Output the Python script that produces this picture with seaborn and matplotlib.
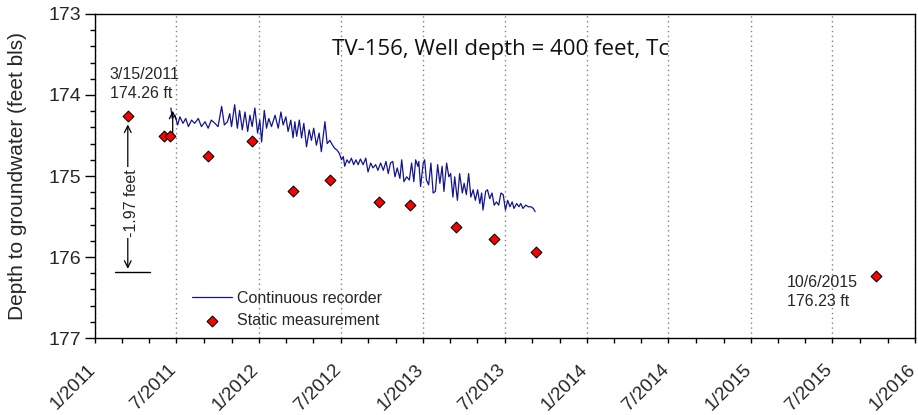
import numpy as np
import pandas as pd
import matplotlib
matplotlib.use("Agg")
import matplotlib.pyplot as plt
import matplotlib.dates as mdates
import matplotlib.transforms as mtransforms
from matplotlib.ticker import MultipleLocator, FuncFormatter
import seaborn as sns

# ---------------- data ----------------
rec_dates = [
    "2011-06-19", "2011-06-22", "2011-06-28", "2011-07-04", "2011-07-09", "2011-07-16", "2011-07-22", "2011-07-28",
    "2011-08-04", "2011-08-11", "2011-08-19", "2011-08-26", "2011-09-03", "2011-09-10", "2011-09-17", "2011-09-25",
    "2011-10-02", "2011-10-10", "2011-10-16", "2011-10-23", "2011-10-28", "2011-11-01", "2011-11-08", "2011-11-14",
    "2011-11-19", "2011-11-25", "2011-12-01", "2011-12-07", "2011-12-12", "2011-12-17", "2011-12-23", "2011-12-29",
    "2012-01-03", "2012-01-07", "2012-01-13", "2012-01-18", "2012-01-23", "2012-01-29", "2012-02-06", "2012-02-13",
    "2012-02-19", "2012-02-24", "2012-03-01", "2012-03-06", "2012-03-12", "2012-03-17",
    "2012-03-21", "2012-03-25", "2012-03-31", "2012-04-05", "2012-04-10", "2012-04-16", "2012-04-22", "2012-04-27",
    "2012-05-02", "2012-05-08", "2012-05-14", "2012-05-19", "2012-05-27", "2012-06-01", "2012-06-07", "2012-06-13",
    "2012-06-18", "2012-06-23", "2012-06-28", "2012-07-03", "2012-07-07", "2012-07-10", "2012-07-15", "2012-07-20",
    "2012-07-25", "2012-07-30", "2012-08-04", "2012-08-09", "2012-08-14", "2012-08-20", "2012-08-26", "2012-08-31",
    "2012-09-06", "2012-09-11", "2012-09-17", "2012-09-22", "2012-09-28", "2012-10-04", "2012-10-10", "2012-10-15",
    "2012-10-20", "2012-10-25", "2012-10-30", "2012-11-04", "2012-11-10", "2012-11-14", "2012-11-19", "2012-11-25",
    "2012-12-01", "2012-12-06", "2012-12-11", "2012-12-15", "2012-12-20",
    "2012-12-22", "2012-12-26", "2013-01-01", "2013-01-04", "2013-01-08", "2013-01-13", "2013-01-18", "2013-01-23",
    "2013-01-28", "2013-02-02", "2013-02-07", "2013-02-12", "2013-02-16", "2013-02-22", "2013-02-27", "2013-03-03",
    "2013-03-08", "2013-03-12", "2013-03-18", "2013-03-23", "2013-03-29", "2013-04-02", "2013-04-07", "2013-04-12",
    "2013-04-17", "2013-04-22", "2013-04-27", "2013-05-02", "2013-05-07", "2013-05-11", "2013-05-14", "2013-05-20",
    "2013-05-24", "2013-05-29", "2013-06-03", "2013-06-08", "2013-06-13", "2013-06-18", "2013-06-23", "2013-06-28",
    "2013-07-03", "2013-07-08", "2013-07-13", "2013-07-18", "2013-07-22", "2013-07-28", "2013-08-02", "2013-08-06",
    "2013-08-11", "2013-08-17", "2013-08-23", "2013-08-29", "2013-09-03", "2013-09-07",
]
rec_depth = [
    174.16, 174.29, 174.25, 174.37, 174.27, 174.35, 174.29, 174.39, 174.31, 174.35, 174.29, 174.39,
    174.33, 174.41, 174.31, 174.35, 174.39, 174.14, 174.37, 174.33, 174.23, 174.39, 174.12, 174.41,
    174.19, 174.43, 174.21, 174.45, 174.25, 174.39, 174.16, 174.47, 174.31, 174.58, 174.19, 174.41,
    174.29, 174.39, 174.25, 174.41, 174.21, 174.37, 174.27, 174.45, 174.31, 174.53,
    174.33, 174.51, 174.31, 174.53, 174.35, 174.64, 174.43, 174.56, 174.41, 174.62, 174.47, 174.70,
    174.33, 174.60, 174.56, 174.62, 174.66, 174.68, 174.72, 174.80, 174.76, 174.88, 174.80, 174.84,
    174.78, 174.86, 174.80, 174.86, 174.79, 174.86, 174.78, 174.95, 174.84, 174.90, 174.86, 174.93,
    174.84, 174.93, 174.82, 174.97, 174.84, 174.82, 175.01, 174.90, 175.03, 174.80, 175.07, 175.01,
    175.05, 174.84, 175.07, 174.80, 174.88,
    174.82, 175.13, 174.84, 174.80, 175.05, 175.11, 174.84, 175.21, 175.19, 174.86, 175.09, 174.88,
    175.19, 174.84, 175.01, 174.97, 175.26, 175.01, 175.30, 174.97, 175.21, 175.09, 175.23, 174.97,
    175.26, 175.17, 175.30, 175.17, 175.34, 175.21, 175.42, 175.19, 175.17, 175.28, 175.21, 175.36,
    175.32, 175.36, 175.21, 175.23, 175.42, 175.30, 175.38, 175.32, 175.40, 175.34, 175.38, 175.34,
    175.40, 175.36, 175.38, 175.38, 175.40, 175.44,
]
static_dates = [
    "2011-03-15", "2011-06-03", "2011-06-16", "2011-09-09", "2011-12-16", "2012-03-16", "2012-06-07",
    "2012-09-24", "2012-12-03", "2013-03-15", "2013-06-08", "2013-09-08", "2015-10-06",
]
static_depth = [
    174.26, 174.51, 174.51, 174.75, 174.57, 175.19, 175.05,
    175.32, 175.36, 175.63, 175.78, 175.94, 176.23,
]
title_text = "TV-156, Well depth = 400 feet, Tc"
ylabel_text = "Depth to groundwater (feet bls)"
first_note = "3/15/2011\n174.26 ft"
last_note = "10/6/2015\n176.23 ft"
diff_note = "-1.97 feet"

rec = pd.DataFrame({"date": pd.to_datetime(rec_dates), "depth": rec_depth})
stat = pd.DataFrame({"date": pd.to_datetime(static_dates), "depth": static_depth})

# ---------------- style ----------------
sns.set_theme(style="ticks")
plt.rcParams["font.family"] = ["Liberation Sans", "DejaVu Sans"]
plt.rcParams["axes.linewidth"] = 1.0

fig = plt.figure(figsize=(9.18, 4.15), dpi=100)
ax = fig.add_axes([0.1035, 0.1855, 0.8932, 0.7808])

sns.lineplot(data=rec, x="date", y="depth", ax=ax, color="#14148c", linewidth=0.9,
             estimator=None, sort=False, label="Continuous recorder")
sns.scatterplot(data=stat, x="date", y="depth", ax=ax, marker="D", s=30, color="#ff0000",
                edgecolor="black", linewidth=0.8, zorder=4, label="Static measurement")

ax.set_xlim(pd.Timestamp("2011-01-01"), pd.Timestamp("2016-01-01"))
ax.set_ylim(177, 173)

ax.xaxis.set_major_locator(mdates.MonthLocator(bymonth=[1, 7]))
ax.xaxis.set_minor_locator(mdates.MonthLocator(bymonth=[3, 5, 9, 11]))
ax.xaxis.set_major_formatter(FuncFormatter(lambda v, p: "{}/{}".format(mdates.num2date(v).month, mdates.num2date(v).year)))
ax.yaxis.set_major_locator(MultipleLocator(1))
ax.yaxis.set_minor_locator(MultipleLocator(0.2))
ax.yaxis.set_major_formatter(FuncFormatter(lambda v, p: "{:d}".format(int(round(v)))))

ax.tick_params(axis="y", which="major", length=7, width=1, direction="out", labelsize=14, pad=3, color="black")
ax.tick_params(axis="y", which="minor", length=3.5, width=1, direction="out", color="black")
ax.tick_params(axis="x", which="both", length=3.5, width=1, direction="out", color="black")
ax.tick_params(axis="x", which="major", labelsize=13.5, pad=13)
shift = mtransforms.ScaledTranslation(-6 / 72, 0, fig.dpi_scale_trans)
for lab in ax.get_xticklabels():
    lab.set_rotation(45)
    lab.set_ha("right")
    lab.set_va("top")
    lab.set_rotation_mode("anchor")
    lab.set_transform(lab.get_transform() + shift)

for sp in ax.spines.values():
    sp.set_visible(True)
    sp.set_color("black")
    sp.set_linewidth(1.0)

ax.xaxis.grid(True, which="major", linestyle=(0, (1, 2.5)), color="#808080", linewidth=1.0)
ax.yaxis.grid(False)

ax.set_xlabel("")
ax.set_ylabel(ylabel_text, fontsize=15)
ax.yaxis.set_label_coords(-0.083, 0.5)

# ---------------- annotations ----------------
ax.text(0.494, 0.889, title_text, transform=ax.transAxes, ha="center", va="center",
        fontsize=16, family=["Open Sans", "DejaVu Sans"], color="#111111")
ax.text(0.018, 0.784, first_note, transform=ax.transAxes, ha="left", va="center",
        fontsize=11.5, linespacing=1.35)
ax.text(0.844, 0.143, last_note, transform=ax.transAxes, ha="left", va="center",
        fontsize=11.5, linespacing=1.35)

d0 = pd.Timestamp(static_dates[0])
ax.annotate("", xy=(d0, 174.33), xytext=(d0, 176.18),
            arrowprops=dict(arrowstyle="<->", lw=0.9, color="black", mutation_scale=12))
ax.plot([pd.Timestamp("2011-02-14"), pd.Timestamp("2011-05-03")], [176.19, 176.19],
        color="black", lw=1.0)
ax.text(d0 + pd.Timedelta(days=8), 175.33, diff_note, rotation=90, ha="center", va="center",
        fontsize=11.5, bbox=dict(facecolor="white", edgecolor="none", pad=1.0))
d1 = pd.Timestamp("2011-06-23")
ax.annotate("", xy=(d1, 174.16), xytext=(d1, 174.58),
            arrowprops=dict(arrowstyle="->", lw=0.9, color="black", mutation_scale=12))

leg = ax.legend(loc="upper left", bbox_to_anchor=(0.118, 0.145), frameon=False, fontsize=11.5,
                handlelength=2.5, handletextpad=0.35, labelspacing=0.45, borderpad=0,
                borderaxespad=0)

fig.savefig("out.png", dpi=100)
